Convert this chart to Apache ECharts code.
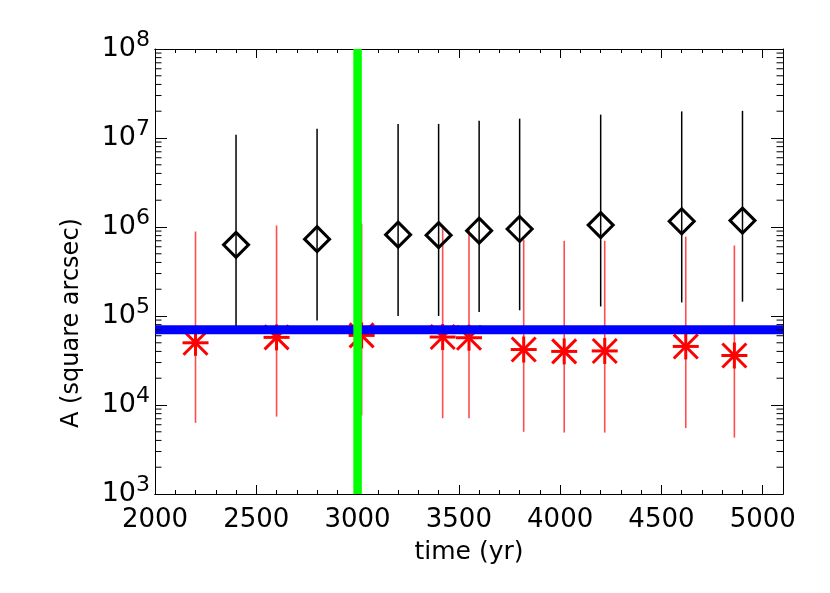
<!DOCTYPE html>
<html><head><meta charset="utf-8">
<script src="https://cdn.jsdelivr.net/npm/echarts@6/dist/echarts.min.js"></script>
<style>html,body{margin:0;padding:0;background:#fff}#c{width:830px;height:593px}</style>
</head><body><div id="c"></div>
<script>
// ---- data ----
const xTickLabels = [2000, 2500, 3000, 3500, 4000, 4500, 5000];
const yDecades = [3, 4, 5, 6, 7, 8];
const yMinorMultipliers = [2, 3, 4, 5, 6, 7, 8, 9];

const diamondTime = [2400, 2800, 3200, 3400, 3600, 3800, 4200, 4600, 4900];
const diamondA    = [6.3e5, 7.3e5, 8.2e5, 8.1e5, 9.1e5, 9.5e5, 1.05e6, 1.16e6, 1.18e6];
const diamondHi   = [1.09e7, 1.27e7, 1.44e7, 1.44e7, 1.56e7, 1.65e7, 1.83e7, 1.99e7, 2.02e7];
const diamondLo   = [7.0e4, 8.9e4, 1.0e5, 1.0e5, 1.11e5, 1.16e5, 1.28e5, 1.42e5, 1.45e5];

const starTime = [2200, 2600, 3020, 3420, 3550, 3820, 4020, 4220, 4620, 4860];
const starA    = [5.0e4, 5.75e4, 6.05e4, 5.8e4, 5.7e4, 4.2e4, 4.0e4, 4.05e4, 4.55e4, 3.6e4];
const starHi   = [8.9e5, 1.04e6, 1.09e6, 1.02e6, 1.0e6, 7.2e5, 7.0e5, 7.0e5, 7.8e5, 6.2e5];
const starLo   = [6.3e3, 7.4e3, 7.6e3, 7.1e3, 7.1e3, 5.0e3, 4.9e3, 4.9e3, 5.5e3, 4.3e3];

const blueLevel = 7.0e4;
const greenTime = 3000;

const xMin = 2000, xMax = 5100;
const yMin = 1e3, yMax = 1e8;

// ---- build ----
const FONT = 'DejaVu Sans';
const yMinorValues = [];
yDecades.slice(0, -1).forEach(e => yMinorMultipliers.forEach(m => yMinorValues.push(m * Math.pow(10, e))));

const chart = echarts.init(document.getElementById('c'), null, {renderer: 'canvas'});

function errBar(color, width) {
  return function (params, api) {
    const p1 = api.coord([api.value(0), api.value(1)]);
    const p2 = api.coord([api.value(0), api.value(2)]);
    return {type: 'line', shape: {x1: p1[0], y1: p1[1], x2: p2[0], y2: p2[1]},
      style: {stroke: color, lineWidth: width}};
  };
}

const baseX = {
  type: 'value', min: xMin, max: xMax, splitLine: {show: false},
  axisLine: {show: true, onZero: false, lineStyle: {color: '#000', width: 1}}
};

const option = {
  animation: false,
  backgroundColor: '#fff',
  grid: {left: 155, right: 47, top: 49, bottom: 99, containLabel: false},
  xAxis: [
    Object.assign({}, baseX, {
      position: 'bottom', interval: 500,
      axisTick: {inside: true, length: 9, lineStyle: {color: '#000'}},
      axisLabel: {color: '#000', fontFamily: FONT, fontSize: 26, margin: 13,
        formatter: v => xTickLabels.indexOf(v) >= 0 ? String(v) : ''},
      name: 'time (yr)', nameLocation: 'middle', nameGap: 46,
      nameTextStyle: {color: '#000', fontFamily: FONT, fontSize: 25}
    }),
    Object.assign({}, baseX, {
      position: 'bottom', interval: 100,
      axisTick: {inside: true, length: 4, lineStyle: {color: '#000'}},
      axisLabel: {show: false}
    }),
    Object.assign({}, baseX, {
      position: 'top', interval: 500,
      axisTick: {inside: true, length: 9, lineStyle: {color: '#000'}},
      axisLabel: {show: false}
    }),
    Object.assign({}, baseX, {
      position: 'top', interval: 100,
      axisTick: {inside: true, length: 4, lineStyle: {color: '#000'}},
      axisLabel: {show: false}
    })
  ],
  yAxis: [
    {
      type: 'log', logBase: 10, min: yMin, max: yMax, position: 'left',
      splitLine: {show: false},
      axisLine: {show: true, lineStyle: {color: '#000', width: 1}},
      axisTick: {inside: true, length: 12, lineStyle: {color: '#000'}},
      axisLabel: {
        margin: 5, color: '#000',
        formatter: v => '{b|10}{s|' + Math.round(Math.log10(v)) + '}',
        rich: {
          b: {fontFamily: FONT, fontSize: 27, lineHeight: 40, color: '#000', verticalAlign: 'middle'},
          s: {fontFamily: FONT, fontSize: 22, lineHeight: 22, color: '#000', verticalAlign: 'top'}
        }
      }
    },
    {
      type: 'log', logBase: 10, min: yMin, max: yMax, position: 'right',
      splitLine: {show: false},
      axisLine: {show: true, lineStyle: {color: '#000', width: 1}},
      axisTick: {inside: true, length: 12, lineStyle: {color: '#000'}},
      axisLabel: {show: false}
    }
  ],
  graphic: [{
    type: 'text', x: 72, y: 323, rotation: Math.PI / 2,
    style: {text: 'A (square arcsec)', fontFamily: FONT, fontSize: 24, fill: '#000',
      align: 'center', verticalAlign: 'middle'}
  }],
  series: [
    { // y minor ticks on both sides
      type: 'custom', xAxisIndex: 0, yAxisIndex: 0, silent: true, clip: false, z: 3,
      data: yMinorValues.map(v => [xMin, v]),
      encode: {x: 0, y: 1},
      renderItem: (params, api) => {
        const l = api.coord([xMin, api.value(1)]);
        const r = api.coord([xMax, api.value(1)]);
        return {type: 'group', children: [
          {type: 'line', shape: {x1: l[0], y1: l[1], x2: l[0] + 6.5, y2: l[1]}, style: {stroke: '#000', lineWidth: 1}},
          {type: 'line', shape: {x1: r[0] - 6.5, y1: r[1], x2: r[0], y2: r[1]}, style: {stroke: '#000', lineWidth: 1}}
        ]};
      }
    },
    { // black error bars
      type: 'custom', xAxisIndex: 0, yAxisIndex: 0, silent: true, z: 2,
      data: diamondTime.map((t, i) => [t, diamondLo[i], diamondHi[i]]),
      encode: {x: 0, y: [1, 2]},
      renderItem: errBar('#000', 1.5)
    },
    { // diamonds
      type: 'scatter', xAxisIndex: 0, yAxisIndex: 0, silent: true, z: 2,
      symbol: 'diamond', symbolSize: [25, 25],
      itemStyle: {color: 'rgba(0,0,0,0)', borderColor: '#000', borderWidth: 3, opacity: 1},
      data: diamondTime.map((t, i) => [t, diamondA[i]])
    },
    { // asterisks
      type: 'custom', xAxisIndex: 0, yAxisIndex: 0, silent: true, z: 2,
      data: starTime.map((t, i) => [t, starA[i]]),
      encode: {x: 0, y: 1},
      renderItem: (params, api) => {
        const c = api.coord([api.value(0), api.value(1)]);
        const r = 13, d = 12;
        const segs = [[-r, 0, r, 0], [0, -r, 0, r], [-d, -d, d, d], [-d, d, d, -d]];
        return {type: 'group', children: segs.map(s => ({
          type: 'line', shape: {x1: c[0] + s[0], y1: c[1] + s[1], x2: c[0] + s[2], y2: c[1] + s[3]},
          style: {stroke: '#ff0000', lineWidth: 3}
        }))};
      }
    },
    { // blue level
      type: 'line', xAxisIndex: 0, yAxisIndex: 0, silent: true, z: 2, symbol: 'none',
      lineStyle: {color: '#0000ff', width: 9},
      data: [[xMin, blueLevel], [xMax, blueLevel]]
    },
    { // green time
      type: 'line', xAxisIndex: 0, yAxisIndex: 0, silent: true, z: 2, symbol: 'none',
      lineStyle: {color: '#00ff00', width: 8.5},
      data: [[greenTime, yMin], [greenTime, yMax]]
    },
    { // red error bars
      type: 'custom', xAxisIndex: 0, yAxisIndex: 0, silent: true, z: 2,
      data: starTime.map((t, i) => [t, starLo[i], starHi[i]]),
      encode: {x: 0, y: [1, 2]},
      renderItem: errBar('rgba(255,0,0,0.7)', 1.6)
    }
  ]
};
chart.setOption(option);
</script>
</body></html>
